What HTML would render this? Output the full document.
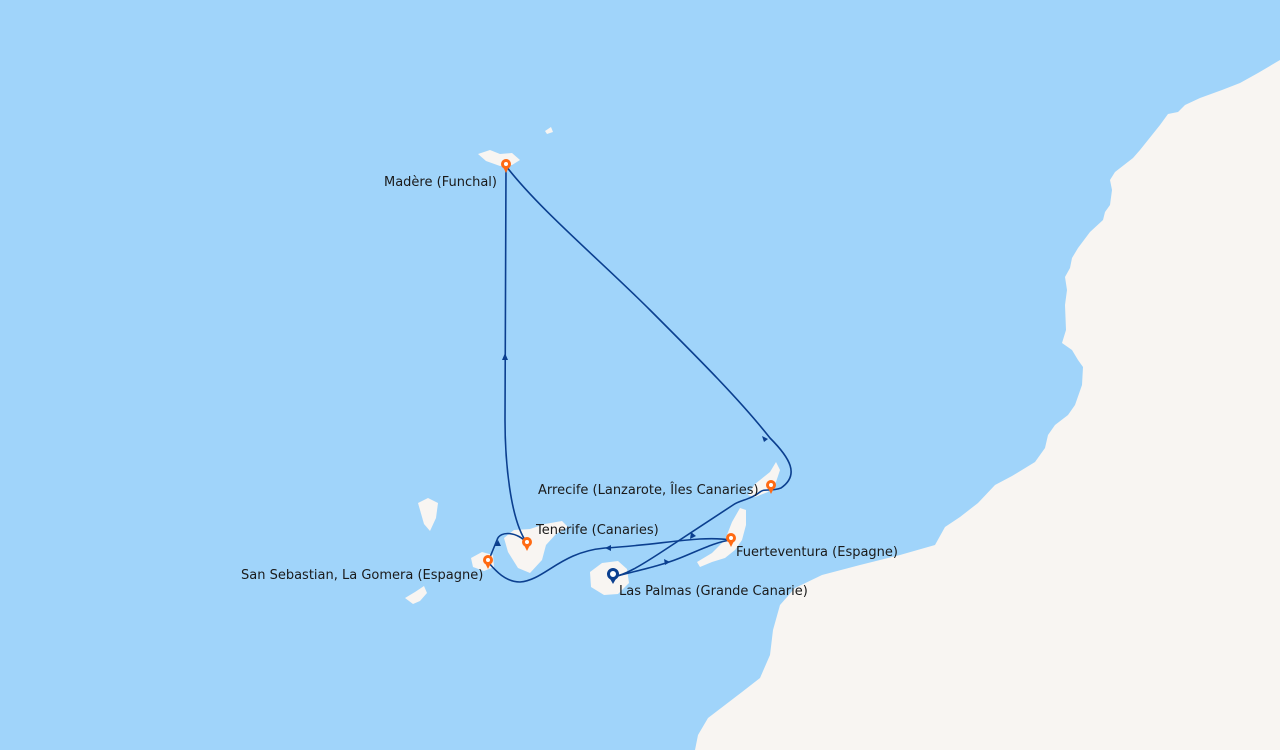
<!DOCTYPE html>
<html><head><meta charset="utf-8"><style>
html,body{margin:0;padding:0;width:1280px;height:750px;overflow:hidden;background:#a0d4fa}
text{font-family:"DejaVu Sans","Liberation Sans",sans-serif;font-size:13px;fill:#1a1a1a}
</style></head><body>
<svg width="1280" height="750" viewBox="0 0 1280 750" xmlns="http://www.w3.org/2000/svg">
<rect width="1280" height="750" fill="#a0d4fa"/>
<g fill="#f8f5f2">
<path d="M1280,60 L1258,73 L1240,83 L1222,90 L1200,98 L1185,105 L1178,112 L1168,114 L1160,125 L1152,135 L1140,150 L1133,158 L1115,172 L1110,180 L1112,190 L1110,205 L1105,212 L1103,220 L1090,232 L1078,248 L1072,258 L1070,268 L1065,277 L1067,290 L1065,305 L1066,330 L1062,343 L1072,350 L1078,360 L1083,367 L1082,385 L1075,405 L1068,415 L1055,425 L1048,435 L1045,448 L1035,462 L1012,476 L995,485 L978,503 L960,517 L945,527 L935,545 L900,555 L860,565 L822,575 L795,588 L780,605 L773,630 L770,655 L760,678 L742,692 L725,705 L708,718 L698,735 L695,750 L1280,750 Z"/>
<path d="M478,154 L490,150 L500,154 L512,153 L520,160 L512,165 L500,166 L486,161 Z"/>
<path d="M545,131 L551,127 L553,132 L547,134 Z"/>
<path d="M418,503 L428,498 L438,503 L436,518 L430,531 L424,524 Z"/>
<path d="M405,598 L415,592 L424,586 L427,593 L420,601 L413,604 Z"/>
<path d="M471,558 L482,552 L493,555 L494,567 L484,571 L473,567 Z"/>
<path d="M504,538 L514,530 L530,529 L545,524 L562,521 L568,527 L556,534 L546,545 L542,560 L530,573 L518,568 L508,552 Z"/>
<path d="M590,572 L602,563 L618,561 L627,569 L629,583 L618,594 L604,595 L591,587 Z"/>
<path d="M740,508 L746,510 L746,525 L742,540 L735,550 L725,558 L712,562 L700,567 L697,562 L712,553 L725,540 L732,522 Z"/>
<path d="M776,462 L780,470 L776,482 L768,492 L755,497 L748,495 L755,484 L770,472 Z"/>
</g>
<g fill="none" stroke="#0b3f8f" stroke-width="1.6">
<path d="M613,577 C640,570 660,566 680,558 C700,550 715,542 731,540"/>
<path d="M731,540 C700,535 660,545 605,548 C560,552 545,580 520,582 C505,582 495,570 488,562"/>
<path d="M488,562 L497,540 C500,530 518,532 527,543"/>
<path d="M527,543 C510,520 505,460 505,420 L506,166"/>
<path d="M506,166 C540,210 600,260 650,310 C700,360 740,400 770,438 C790,458 800,475 781,488 C770,492 765,488 760,492 C750,500 740,500 733,505 C710,520 680,540 660,553 C640,566 625,575 613,577"/>
</g>
<g fill="#0b3f8f">
<path d="M670,562 l-6,-3 l1,6 Z"/>
<path d="M605,548 l6,-3 l0,6 Z"/>
<path d="M498,540 l-3,6 l6,0 Z"/>
<path d="M505,353 l-3,7 l6,0 Z"/>
<path d="M768,439 l-6,-3 l2,6 Z"/>
<path d="M690,539 l1,-7 l5,4 Z"/>
</g>
<g stroke="#ff6a13" stroke-width="3" fill="#fff">
<circle cx="506" cy="164" r="3.5"/>
<circle cx="771" cy="485" r="3.5"/>
<circle cx="731" cy="538" r="3.5"/>
<circle cx="527" cy="542" r="3.5"/>
<circle cx="488" cy="560" r="3.5"/>
</g>
<g fill="#ff6a13">
<path d="M503,167 L506,173 L509,167 Z"/><path d="M768,488 L771,494 L774,488 Z"/><path d="M728,541 L731,547 L734,541 Z"/><path d="M524,545 L527,551 L530,545 Z"/><path d="M485,563 L488,569 L491,563 Z"/>
</g>
<circle cx="613" cy="574" r="4.5" fill="#fff" stroke="#0b3f8f" stroke-width="3"/>
<path d="M609,577 L613,584 L617,577 Z" fill="#0b3f8f"/>
<text x="384" y="186">Madère (Funchal)</text>
<text x="538" y="494">Arrecife (Lanzarote, Îles Canaries)</text>
<text x="536" y="534">Tenerife (Canaries)</text>
<text x="736" y="556">Fuerteventura (Espagne)</text>
<text x="241" y="579">San Sebastian, La Gomera (Espagne)</text>
<text x="619" y="595">Las Palmas (Grande Canarie)</text>
</svg>
</body></html>
